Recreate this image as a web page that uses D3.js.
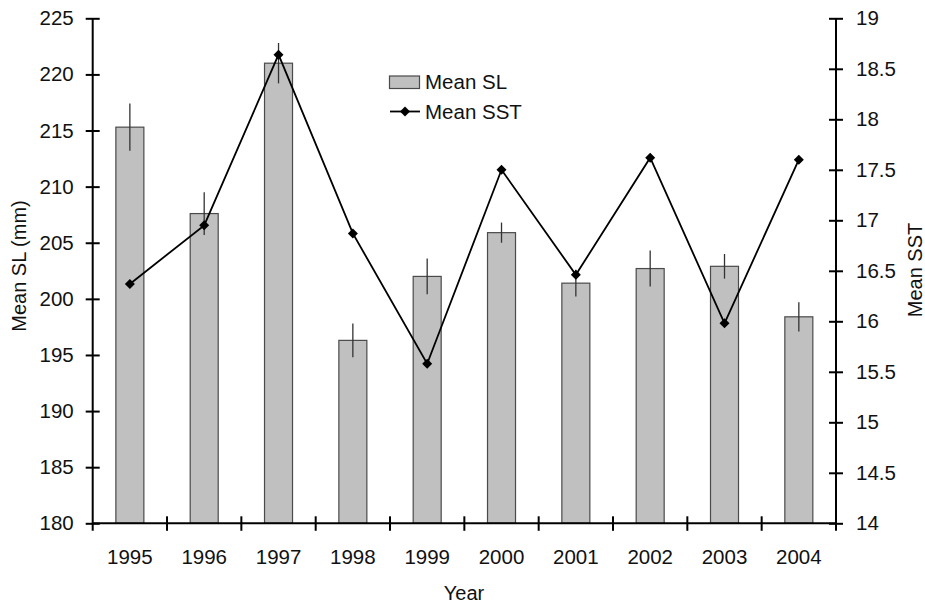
<!DOCTYPE html>
<html>
<head>
<meta charset="utf-8">
<script src="https://cdn.jsdelivr.net/npm/d3@7"></script>
<style>
  html, body { margin: 0; padding: 0; background: #fff; }
  svg { display: block; }
  text { font-family: "Liberation Sans", Arial, sans-serif; fill: #111; }
</style>
</head>
<body>
<svg id="chart" width="925" height="603"></svg>
<script>
// Yearly means: standard length (bars, left axis) and sea surface temperature (line, right axis)
const years = ["1995", "1996", "1997", "1998", "1999", "2000", "2001", "2002", "2003", "2004"];
const meanSL = [215.3, 207.6, 221.0, 196.3, 202.0, 205.9, 201.4, 202.7, 202.9, 198.4];
const slError = [2.1, 1.9, 1.8, 1.5, 1.6, 0.9, 1.2, 1.6, 1.1, 1.3];
const meanSST = [16.37, 16.95, 18.64, 16.87, 15.58, 17.50, 16.46, 17.62, 15.98, 17.60];
const slTicks = [180, 185, 190, 195, 200, 205, 210, 215, 220, 225];
const sstTicks = [14, 14.5, 15, 15.5, 16, 16.5, 17, 17.5, 18, 18.5, 19];

const svg = d3.select("#chart");
const plotL = 92.7, plotR = 836, plotT = 18.3, plotB = 523.3;
const labelSize = 20.5;

const x = d3.scaleBand().domain(years).range([plotL, plotR]).paddingInner(0).paddingOuter(0);
const ySL = d3.scaleLinear().domain([180, 225]).range([plotB, plotT]);
const ySST = d3.scaleLinear().domain([14, 19]).range([plotB, plotT]);
const barW = 28;
const cx = i => x(years[i]) + x.bandwidth() / 2;

// Bars
svg.append("g").selectAll("rect").data(meanSL).join("rect")
  .attr("x", (d, i) => cx(i) - barW / 2)
  .attr("y", d => ySL(d))
  .attr("width", barW)
  .attr("height", d => plotB - ySL(d))
  .attr("fill", "#c0c0c0")
  .attr("stroke", "#4a4a4a")
  .attr("stroke-width", 1.2);

// Error bars (no caps)
svg.append("g").selectAll("line").data(meanSL).join("line")
  .attr("x1", (d, i) => cx(i))
  .attr("x2", (d, i) => cx(i))
  .attr("y1", (d, i) => ySL(d + slError[i]))
  .attr("y2", (d, i) => ySL(d - slError[i]))
  .attr("stroke", "#333")
  .attr("stroke-width", 1.3);

// SST line
const line = d3.line()
  .x((d, i) => cx(i))
  .y(d => ySST(d));
svg.append("path").datum(meanSST)
  .attr("d", line)
  .attr("fill", "none")
  .attr("stroke", "#000")
  .attr("stroke-width", 1.8);

const diamond = d3.symbol().type(d3.symbolSquare).size(50);
svg.append("g").selectAll("path").data(meanSST).join("path")
  .attr("d", diamond)
  .attr("transform", (d, i) => `translate(${cx(i)},${ySST(d)}) rotate(45)`)
  .attr("fill", "#000");

// Axes
const axisStroke = g => g.selectAll("path, line").attr("stroke", "#000").attr("stroke-width", 2);
const styleText = g => g.selectAll("text").attr("font-size", labelSize)
  .attr("font-family", "Liberation Sans, Arial, sans-serif").attr("fill", "#111");

const leftAxis = svg.append("g").attr("transform", `translate(${plotL},0)`)
  .call(d3.axisLeft(ySL).tickValues(slTicks).tickSize(0).tickPadding(19).tickFormat(d3.format("d")));
leftAxis.select(".domain").remove();
leftAxis.selectAll(".tick").append("line").attr("x1", -7).attr("x2", 7);
leftAxis.append("line").attr("y1", plotT).attr("y2", plotB + 7.5);
styleText(leftAxis);
axisStroke(leftAxis);

const rightAxis = svg.append("g").attr("transform", `translate(${plotR},0)`)
  .call(d3.axisRight(ySST).tickValues(sstTicks).tickSize(0).tickPadding(20).tickFormat(d => String(d)));
rightAxis.select(".domain").remove();
rightAxis.selectAll(".tick").append("line").attr("x1", -7).attr("x2", 7);
rightAxis.append("line").attr("y1", plotT).attr("y2", plotB + 7.5);
styleText(rightAxis);
axisStroke(rightAxis);

const bottomAxis = svg.append("g").attr("transform", `translate(0,${plotB})`)
  .call(d3.axisBottom(x).tickSize(0).tickPadding(26));
bottomAxis.select(".domain").remove();
bottomAxis.append("line").attr("x1", plotL).attr("x2", plotR);
bottomAxis.selectAll(".tick").filter((d, i) => i > 0).append("line")
  .attr("x1", -x.bandwidth() / 2).attr("x2", -x.bandwidth() / 2)
  .attr("y1", -7).attr("y2", 7.5);
styleText(bottomAxis);
axisStroke(bottomAxis);

// Axis titles
svg.append("text").attr("transform", "translate(26,266) rotate(-90)")
  .attr("text-anchor", "middle").attr("font-size", 20).text("Mean SL (mm)");
svg.append("text").attr("transform", "translate(922,270) rotate(-90)")
  .attr("text-anchor", "middle").attr("font-size", 20).text("Mean SST");
svg.append("text").attr("x", 464).attr("y", 600)
  .attr("text-anchor", "middle").attr("font-size", 20).text("Year");

// Legend
const legend = svg.append("g");
legend.append("rect").attr("x", 389.5).attr("y", 76).attr("width", 30).attr("height", 12.5)
  .attr("fill", "#c0c0c0").attr("stroke", "#4a4a4a").attr("stroke-width", 1.2);
legend.append("text").attr("x", 425).attr("y", 89).attr("font-size", labelSize).text("Mean SL");
legend.append("line").attr("x1", 390).attr("x2", 420).attr("y1", 111.5).attr("y2", 111.5)
  .attr("stroke", "#000").attr("stroke-width", 1.8);
legend.append("path").attr("d", diamond).attr("transform", "translate(405,111.5) rotate(45)").attr("fill", "#000");
legend.append("text").attr("x", 425).attr("y", 118.5).attr("font-size", labelSize).text("Mean SST");
</script>
</body>
</html>
